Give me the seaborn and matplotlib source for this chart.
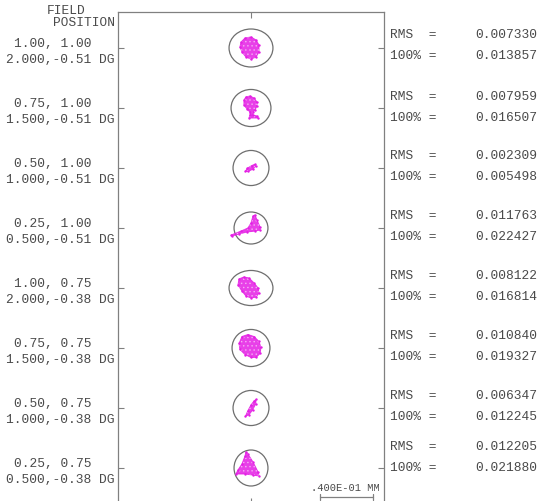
import numpy as np
import pandas as pd
import matplotlib
matplotlib.use("Agg")
import matplotlib.pyplot as plt
from matplotlib.patches import Ellipse, Polygon
import seaborn as sns

# ---- field definitions -------------------------------------------------
field_rel = ["1.00, 1.00", "0.75, 1.00", "0.50, 1.00", "0.25, 1.00",
             "1.00, 0.75", "0.75, 0.75", "0.50, 0.75", "0.25, 0.75"]
field_abs = ["2.000,-0.51 DG", "1.500,-0.51 DG", "1.000,-0.51 DG", "0.500,-0.51 DG",
             "2.000,-0.38 DG", "1.500,-0.38 DG", "1.000,-0.38 DG", "0.500,-0.38 DG"]

# RMS and 100% spot radii (mm)
rms = [0.007330, 0.007959, 0.002309, 0.011763, 0.008122, 0.010840, 0.006347, 0.012205]
r100 = [0.013857, 0.016507, 0.005498, 0.022427, 0.016814, 0.019327, 0.012245, 0.021880]

# Airy disk extents (micrometres, x and y)
airy_w = [33.0, 30.0, 27.0, 25.5, 33.0, 28.5, 27.0, 25.5]
airy_h = [28.5, 27.8, 26.3, 24.0, 26.3, 27.8, 26.3, 27.0]

# Spot outlines relative to the chief ray (micrometres, y measured downward)
spot_x = [
    [-7.5, -4.5, 0, 3.8, 6, 6, 3.8, 0, -3.8, -6.8, -8.3],
    [-5.3, -3.8, -0.8, 2.3, 4.5, 4.5, 3, 1.5, 1.5, 4.5, 5.3, -1.5, -0.8, -0.8, -3, -5.3],
    [-4.3, -2.8, 0.5, 2.8, 3.4, 1.2, -2.3],
    [-15, -7.5, -2.3, 0, 1.5, 3, 4.5, 6.8, 6.8, 3, -3, -9, -14.3],
    [-9, -5.3, -1.5, 2.3, 5.3, 6, 3.8, 0, -3.8, -6.8, -9.8],
    [-6.8, -2.3, 2.3, 6, 7.5, 6.8, 3.8, 0, -4.5, -8.3, -9],
    [-4.2, -2.5, 0, 2.3, 3.8, 3.6, 1.2, -1.5],
    [-3.8, -2.3, 1.5, 5.3, 6, 1.5, -4.5, -11.3, -9.8, -6.8, -4.5],
]
spot_y = [
    [-4.5, -7.5, -8.3, -6, -2.3, 3, 6.8, 8.3, 6.8, 3, -0.8],
    [-6, -8.3, -9, -7.5, -4.5, -1.5, 1.5, 3, 5.3, 6, 7.5, 7.5, 5.3, 3, 0.8, -2.3],
    [2.6, 0.2, -1.8, -2.8, -1.2, 1.0, 2.6],
    [5.3, 2.3, 0, -3.8, -9, -9.8, -6, -0.8, 1.5, 2.3, 3, 4.5, 6],
    [-6.8, -8.3, -7.5, -3.8, 0, 3.8, 6.8, 7.5, 6, 2.3, -2.3],
    [-8.6, -10.1, -8.6, -4.9, -0.4, 4.1, 7.1, 7.1, 4.9, 1.1, -3.4],
    [6.3, 2.3, -2.3, -5.3, -6.4, -3.3, 1.5, 5.0],
    [-12, -10.5, -4.5, 3, 6, 5.3, 4.5, 4.5, 1.5, -3, -9],
]

scale_bar_um = 40.0
scale_label = ".400E-01 MM"

# ---- layout ------------------------------------------------------------
W, H = 538, 501
ROW = 45.0          # vertical spacing between fields (um)
MARGIN = 27.0
GRAY = "#808080"
CIRC = "#6e6e6e"
TEXT = "#4a4a4a"
SPOT = "#e41ee4"
FONT = dict(family="Liberation Mono", size=9.3, color=TEXT)

sns.set_theme(style="white")
plt.rcParams["font.family"] = ["Liberation Mono", "DejaVu Sans"]
plt.rcParams["hatch.linewidth"] = 0.6

fig = plt.figure(figsize=(W / 100, H / 100), dpi=100)
ax = fig.add_axes([118 / W, (H - 504) / H, 266 / W, 492 / H])

n = len(field_rel)
rows = [i * ROW for i in range(n)]

records = []
for i in range(n):
    cy = rows[i]
    ax.add_patch(Ellipse((0, cy), airy_w[i], airy_h[i], fill=False,
                         ec=CIRC, lw=0.9))
    xs = np.array(spot_x[i])
    ys = np.array(spot_y[i]) + cy
    ax.fill(xs, ys, color=SPOT, alpha=0.85, lw=0.7, ec=SPOT)
    # light stipple over the ray footprint
    ax.add_patch(Polygon(np.column_stack([xs, ys]), closed=True, fill=False,
                         hatch="....", ec=(1, 1, 1, 0.45), lw=0))
    for x, y in zip(xs, ys):
        records.append({"x": x, "y": y, "field": field_rel[i]})

pts = pd.DataFrame(records)
sns.scatterplot(data=pts, x="x", y="y", ax=ax, color=SPOT, s=3,
                linewidth=0, legend=False)

ax.set_xlim(-100, 100)
ax.set_ylim((n - 1) * ROW + MARGIN, -MARGIN)
ax.set_xlabel("")
ax.set_ylabel("")
ax.set_xticks([0])
ax.set_yticks(rows)
ax.tick_params(direction="in", length=4.5, width=0.8, color=GRAY,
               top=True, bottom=True, left=True, right=True,
               labelleft=False, labelbottom=False)
for sp in ax.spines.values():
    sp.set_color(GRAY)
    sp.set_linewidth(0.9)


def px(x, y):
    return x / W, 1 - y / H


# header
fig.text(*px(66, 11), "FIELD", ha="center", va="center", **FONT)
fig.text(*px(115, 23), "POSITION", ha="right", va="center", **FONT)

# vertical placement of the statistics column (pixels from top)
rms_y = [35, 97, 156, 216, 276, 336, 396, 447]
for i in range(n):
    ty = 48 + 60 * i
    fig.text(*px(91, ty - 4), field_rel[i], ha="right", va="center", **FONT)
    fig.text(*px(115, ty + 12), field_abs[i], ha="right", va="center", **FONT)
    fig.text(*px(390, rms_y[i]), "RMS  =", ha="left", va="center", **FONT)
    fig.text(*px(537, rms_y[i]), f"{rms[i]:.6f}", ha="right", va="center", **FONT)
    fig.text(*px(390, rms_y[i] + 21), "100% =", ha="left", va="center", **FONT)
    fig.text(*px(537, rms_y[i] + 21), f"{r100[i]:.6f}", ha="right", va="center", **FONT)

# scale bar
fig.text(*px(345, 488), scale_label, ha="center", va="center",
         family="Liberation Mono", size=7.5, color=TEXT)
bx0 = 320 / W
bx1 = bx0 + scale_bar_um / 200 * (266 / W)
by = 1 - 497 / H
fig.add_artist(plt.Line2D([bx0, bx1], [by, by], color=GRAY, lw=0.9))
for bx in (bx0, bx1):
    fig.add_artist(plt.Line2D([bx, bx], [by - 0.006, by + 0.006], color=GRAY, lw=0.9))

fig.savefig("out.png", dpi=100)
